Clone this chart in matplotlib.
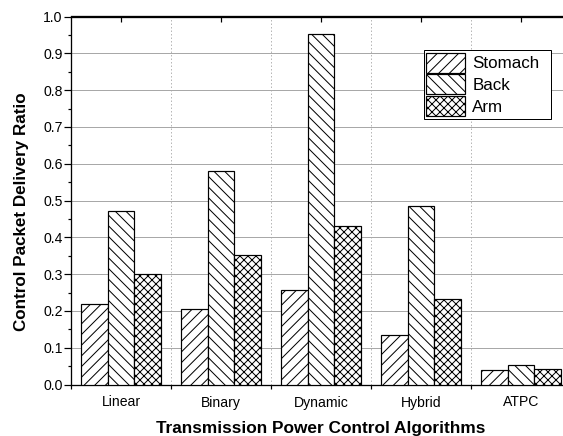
import numpy as np
import matplotlib
matplotlib.use("Agg")
import matplotlib.pyplot as plt
from matplotlib.ticker import MultipleLocator, FixedLocator
from matplotlib.patches import Rectangle

categories = ["Linear", "Binary", "Dynamic", "Hybrid", "ATPC"]
stomach = [0.220, 0.204, 0.256, 0.134, 0.039]
back = [0.471, 0.580, 0.952, 0.486, 0.052]
arm = [0.301, 0.351, 0.431, 0.232, 0.043]
series_names = ["Stomach", "Back", "Arm"]
y_ticks = [0.0, 0.1, 0.2, 0.3, 0.4, 0.5, 0.6, 0.7, 0.8, 0.9, 1.0]

DPI = 96
PX = 72.0 / DPI  # points per pixel
W, H = 563, 436

plt.rcParams['font.family'] = ['Liberation Sans', 'DejaVu Sans']
plt.rcParams['hatch.linewidth'] = 1.0 * PX

fig = plt.figure(figsize=(W / DPI, H / DPI), dpi=DPI)
ax = fig.add_axes([71 / W, (H - 384.5) / H, 500 / W, 368 / H])

x = np.arange(1, len(categories) + 1)
bw = 0.267
hatches = ['///', '\\\\\\', 'xxxx']
for i, (vals, name, h) in enumerate(zip([stomach, back, arm], series_names, hatches)):
    ax.bar(x + (i - 1) * bw, vals, width=bw, color='white', edgecolor='black',
           linewidth=1.2 * PX, hatch=h, label=name, zorder=3)

ax.set_xlim(0.5, 5.5)
ax.set_ylim(0, 1.0)
ax.set_yticks(y_ticks)
ax.set_yticklabels([f"{v:.1f}" for v in y_ticks])
ax.yaxis.set_minor_locator(MultipleLocator(0.05))
ax.set_xticks(x)
ax.set_xticklabels(categories)
ax.xaxis.set_minor_locator(FixedLocator(np.arange(0.5, 6.0, 1.0)))

ax.tick_params(axis='y', which='major', direction='out', length=7 * PX, width=1.2 * PX,
               pad=1.5 * PX, labelsize=14 * PX, right=False)
ax.tick_params(axis='y', which='minor', direction='out', length=3.5 * PX, width=1.2 * PX, right=False)
ax.tick_params(axis='x', which='major', length=0, pad=11 * PX, labelsize=14 * PX, top=False)
ax.tick_params(axis='x', which='minor', direction='out', length=3.5 * PX, width=1.2 * PX, top=False)

sec = ax.secondary_xaxis('top')
sec.set_xticks(x)
sec.tick_params(direction='in', length=6 * PX, width=1.2 * PX, labeltop=False)
sec.spines['top'].set_linewidth(1.3 * PX)

ax.grid(axis='y', which='major', color='#a8a8a8', linewidth=1.0 * PX, linestyle='-', zorder=0)
ax.grid(axis='x', which='minor', color='#b8b8b8', linewidth=1.0 * PX, linestyle=(0, (1.5, 2.0)), zorder=0)
ax.set_axisbelow(True)

for s in ['left', 'bottom', 'top']:
    ax.spines[s].set_linewidth(1.3 * PX)
ax.spines['right'].set_visible(False)

fig.text(321 / W, (H - 433.3) / H, "Transmission Power Control Algorithms",
         ha='center', va='baseline', fontsize=17.2 * PX, fontweight='bold')
fig.text(26 / W, 1 - 212.0 / H, "Control Packet Delivery Ratio", rotation=90,
         rotation_mode='anchor', ha='center', va='baseline',
         fontsize=17 * PX, fontweight='bold')

# legend (frame drawn separately so it can have the wider right margin of the original)
extra_right = 9  # px
leg = ax.legend(loc='upper right', bbox_to_anchor=((551 - extra_right) / W, 1 - 50 / H),
                bbox_transform=fig.transFigure, borderaxespad=0,
                fontsize=17 * PX, handlelength=2.3, handleheight=1.43,
                handletextpad=0.4, labelspacing=0.1, borderpad=0.16,
                frameon=False)
leg.set_zorder(5)
fig.canvas.draw()
bb = leg.get_window_extent()
frame = Rectangle((bb.x0 / W, bb.y0 / H), (bb.width + extra_right) / W, bb.height / H,
                  transform=fig.transFigure, facecolor='white', edgecolor='black',
                  linewidth=1.0 * PX, zorder=4.5, clip_on=False)
ax.add_patch(frame)

fig.savefig("out.png", dpi=DPI)
